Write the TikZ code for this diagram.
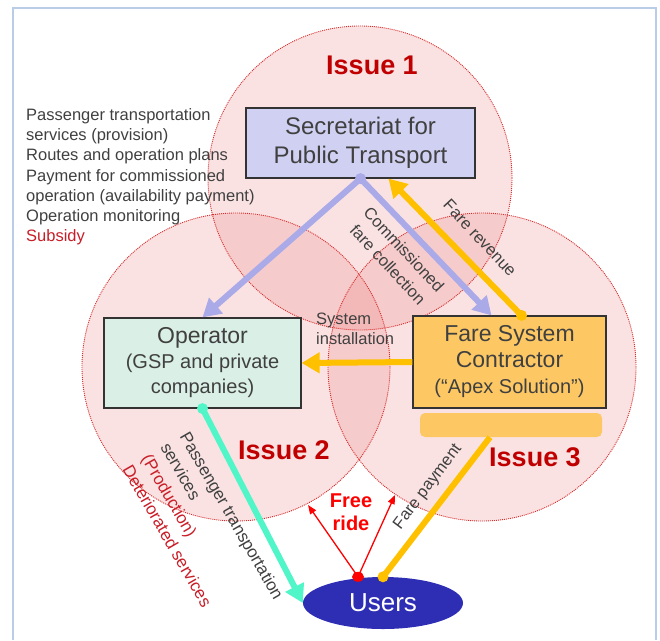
\documentclass[tikz,border=0pt]{standalone}
\usepackage{fontspec}
\setmainfont{Liberation Sans}
\usetikzlibrary{
	arrows.meta,
	shapes.geometric,
	calc
}
\definecolor{secblue}{RGB}{208,208,242}
\definecolor{opgreen}{RGB}{218,240,230}
\definecolor{fscorange}{RGB}{253,200,100}
\definecolor{arrorange}{RGB}{255,192,0}
\definecolor{arrlav}{RGB}{170,170,232}
\definecolor{arrteal}{RGB}{80,245,200}
\definecolor{usersblue}{RGB}{46,46,180}
\definecolor{txtgray}{RGB}{64,64,64}
\definecolor{issuered}{RGB}{192,0,0}
\definecolor{darkred}{RGB}{200,30,40}
\definecolor{circfill}{RGB}{230,110,110}
\definecolor{circline}{RGB}{215,45,45}
\definecolor{frameblue}{RGB}{185,205,232}
\tikzset{
	issue circle/.style={
		fill=circfill,
		fill opacity=0.2
	},
	issue rim/.style={
		draw=circline,
		line width=0.9pt,
		dash pattern=on 1pt off 1pt
	},
	actor/.style={
		draw=black!80,
		line width=1.2pt,
		rectangle,
		inner sep=0pt,
		align=center,
		text=txtgray
	},
	issue label/.style={
		text=issuered,
		font=\fontsize{27}{32}\selectfont\bfseries
	},
	side label/.style={
		text=txtgray,
		font=\fontsize{16.5}{20}\selectfont,
		inner sep=0pt
	},
	flow/.style={
		line width=6pt,
		-{Triangle[length=18pt,width=20pt]}
	},
	free ride/.style={
		red,
		line width=1.3pt,
		-{Triangle[length=9pt,width=7pt]}
	}
}

\begin{document}
\begin{tikzpicture}[x=1pt, y=-1pt] %%%%% ISSUES
	\useasboundingbox (0,0) rectangle (660,640);
	\draw[frameblue, line width=1.5pt] (13,640) -- (13,8) -- (656,8) -- (656,640);
	
	\fill[issue circle] (360,178) circle [radius=152pt];
	\fill[issue circle] (236,367) circle [radius=154pt];
	\fill[issue circle] (482,367) circle [radius=154pt];
	\draw[issue rim] (360,178) circle [radius=152pt];
	\draw[issue rim] (236,367) circle [radius=154pt];
	\draw[issue rim] (482,367) circle [radius=154pt];
	
	\node[issue label] (iss1) at (372,65) {Issue 1};
	\node[issue label] (iss2) at (284,450) {Issue 2};
	\node[issue label] (iss3) at (535,457) {Issue 3};
	
	\node[side label, anchor=north west, align=left, font=\fontsize{16.5}{20.3}\selectfont] (tasks) at (26,108) {Passenger transportation\\services (provision)\\Routes and operation plans\\Payment for commissioned\\operation (availability payment)\\Operation monitoring\\\textcolor{darkred}{Subsidy}};
	
	\node[actor, fill=secblue, minimum width=229pt, minimum height=70pt, font=\fontsize{24}{29}\selectfont] (sec) at (360.5,143) {Secretariat for\\Public Transport};
	\node[actor, fill=opgreen, minimum width=197pt, minimum height=90pt, font=\fontsize{20}{25}\selectfont] (op) at (202.5,363) {{\fontsize{23}{25}\selectfont Operator}\\(GSP and private\\companies)};
	\node[actor, fill=fscorange, minimum width=193pt, minimum height=92pt, font=\fontsize{23}{26}\selectfont] (fsc) at (509.5,362) {Fare System\\Contractor\\{\fontsize{20}{26}\selectfont (“Apex Solution”)}};
	\node[fill=fscorange, rounded corners=5pt, minimum width=182pt, minimum height=24pt, inner sep=0pt] (fscbar) at (511,425) {};
	\node[ellipse, fill=usersblue, minimum width=160pt, minimum height=52pt, inner sep=0pt, text=white, font=\fontsize{26}{30}\selectfont] (users) at (383,603) {Users};
	
	\draw[flow, arrlav] (sec.south) -- (op.north);
	\draw[flow, arrlav] (sec.south) -- ([xshift=-18pt]fsc.north);
	\fill[arrlav] (sec.south) circle (5.5pt);
	\draw[flow, arrorange] ([xshift=12pt]fsc.north) -- ([xshift=28pt]sec.south);
	\fill[arrorange] ([xshift=12pt]fsc.north) circle (5.5pt);
	\draw[flow, arrorange] (fsc.west) -- (op.east);
	\draw[flow, arrteal] (op.south) -- (users.west);
	\fill[arrteal] (op.south) circle (5.5pt);
	\draw[line width=6pt, arrorange] ([xshift=-21pt]fscbar.south) -- (users.north);
	\fill[arrorange] (users.north) circle (5.5pt);
	
	\coordinate (frdot) at ([xshift=-25pt]users.north);
	\coordinate (frl) at (308,505);
	\coordinate (frr) at (395,495);
	\draw[free ride] (frdot) -- (frl);
	\draw[free ride] (frdot) -- (frr);
	\fill[red] (frdot) ellipse (6pt and 5pt);
	\node[text=red, align=center, font=\fontsize{20}{23}\selectfont\bfseries] (free) at (351,512) {Free\\ride};
	
	\node[side label, rotate=-47, align=center, font=\fontsize{16.5}{22}\selectfont] (coll) at (396,257) {Commissioned\\fare collection};
	\node[side label, rotate=-47] (rev) at (480,238) {Fare revenue};
	\node[side label, anchor=north west, align=left] (inst) at (316,313) {System\\installation};
	\node[side label, rotate=53] (pay) at (428,487) {Fare payment};
	\node[side label, rotate=-60, anchor=north west, align=left, font=\fontsize{17}{22}\selectfont] (pass) at (190,430) {Passenger transportation\\services\\\textcolor{darkred}{(Production)}\\\textcolor{darkred}{Deteriorated services}};
\end{tikzpicture}
\end{document}
